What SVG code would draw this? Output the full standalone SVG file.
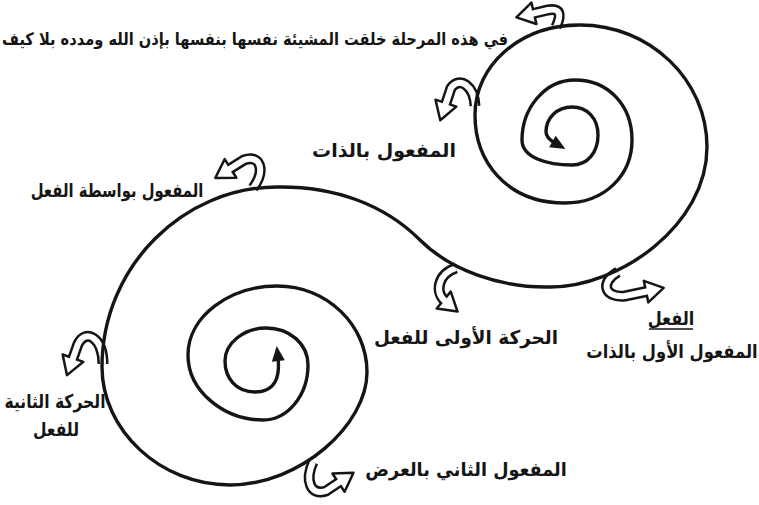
<svg xmlns="http://www.w3.org/2000/svg" xmlns:xlink="http://www.w3.org/1999/xlink" width="759" height="505" viewBox="0 0 759 505">
<style>
.t{font-family:"DejaVu Sans","Noto Sans",sans-serif;font-weight:bold;font-size:19px;fill:#151515;text-anchor:middle}
.sp{fill:none;stroke:#151515;stroke-width:3.4;stroke-linecap:round;stroke-linejoin:round}
.to{fill:none;stroke:#151515;stroke-width:11;marker-end:url(#headO)}
.ti{fill:none;stroke:#fff;stroke-width:6}
</style>
<defs>
<marker id="tip" markerUnits="userSpaceOnUse" markerWidth="30" markerHeight="30" refX="0" refY="0" orient="auto-start-reverse" overflow="visible">
<path d="M -3,-6.5 L 12,0 L -3,6.5 Z" fill="#151515"/>
</marker>
<marker id="headO" markerUnits="userSpaceOnUse" markerWidth="40" markerHeight="40" refX="0" refY="0" orient="auto" overflow="visible">
<path d="M -3,-11 L 15,0 L -3,11 Z" fill="#fff" stroke="#151515" stroke-width="2.5" stroke-linejoin="round"/>
</marker>
<path id="pA" d="M 556 27 C 562 14, 560 8, 548 10 L 531 14"/>
<path id="pB" d="M 475 106 C 474 86, 460 76, 451 88 L 445 106"/>
<path id="pC" d="M 253 188 C 266 170, 260 154, 244 160 L 228 170"/>
<path id="pD" d="M 456 268 C 438 274, 434 292, 446 302"/>
<path id="pE" d="M 618 272 C 600 282, 604 298, 625 296 L 649 291"/>
<path id="pF" d="M 103 364 C 103 338, 86 328, 78 344 L 72 361"/>
<path id="pG" d="M 313 462 C 305 480, 310 496, 326 491 L 341 481"/>
</defs>
<rect width="759" height="505" fill="#fff"/>
<g id="connectors">
<g id="arrow-top"><use xlink:href="#pA" class="to"/><use xlink:href="#pA" class="ti"/></g>
<g id="arrow-dhat"><use xlink:href="#pB" class="to"/><use xlink:href="#pB" class="ti"/></g>
<g id="arrow-wasita"><use xlink:href="#pC" class="to"/><use xlink:href="#pC" class="ti"/></g>
<g id="arrow-haraka1"><use xlink:href="#pD" class="to"/><use xlink:href="#pD" class="ti"/></g>
<g id="arrow-fiel"><use xlink:href="#pE" class="to"/><use xlink:href="#pE" class="ti"/></g>
<g id="arrow-haraka2"><use xlink:href="#pF" class="to"/><use xlink:href="#pF" class="ti"/></g>
<g id="arrow-ard"><use xlink:href="#pG" class="to"/><use xlink:href="#pG" class="ti"/></g>
</g>
<g id="spiral">
<path class="sp" marker-start="url(#tip)" marker-end="url(#tip)" d="M 278 358 C 280 376, 276 392, 255 392 C 236 392, 225 378, 225 361 C 225 343, 244 328, 266 328 C 290 328, 308 344, 308 365 C 308 395, 288 420, 263 420 C 225 420, 188 392, 188 355 C 188 316, 230 286, 277 286 C 327 286, 367 325, 367 372 C 367 425, 300 485, 230 485 C 160 485, 102 430, 102 367 C 102 265, 185 187, 277 187 C 335 186, 385 205, 420 240 C 450 270, 500 288, 550 287 C 620 287, 707 225, 707 147 C 707 80, 650 25, 580 25 C 520 25, 475 65, 475 115 C 475 160, 505 203, 565 203 C 605 203, 632 175, 632 140 C 632 105, 608 80, 575 80 C 545 80, 522 108, 522 140 C 522 158, 548 165, 572 165 C 588 165, 598 152, 598 135 C 598 118, 587 107, 572 107 C 557 107, 546 118, 546 132 C 546 136, 548 139, 555 143"/>
</g>
<g id="labels">
<g id="label-top"><text class="t" transform="translate(255 45) scale(0.86 1)" style="font-size:17px">في هذه المرحلة خلقت المشيئة نفسها بنفسها بإذن الله ومدده بلا كيف</text></g>
<g id="label-dhat"><text class="t" transform="translate(384 157)">المفعول بالذات</text></g>
<g id="label-wasita"><text class="t" transform="translate(117 197) scale(0.78 1)">المفعول بواسطة الفعل</text></g>
<g id="label-haraka1"><text class="t" transform="translate(466 344) scale(0.97 1)">الحركة الأولى للفعل</text></g>
<g id="label-fiel"><text class="t" transform="translate(671 325) scale(0.85 1)">الفعل</text><line x1="649" y1="329" x2="693" y2="329" stroke="#151515" stroke-width="1.5"/><text class="t" transform="translate(672 358) scale(0.86 1)">المفعول الأول بالذات</text></g>
<g id="label-haraka2"><text class="t" transform="translate(55 408) scale(0.82 1)">الحركة الثانية</text><text class="t" transform="translate(56 436) scale(0.82 1)">للفعل</text></g>
<g id="label-ard"><text class="t" transform="translate(466 476) scale(0.93 1)">المفعول الثاني بالعرض</text></g>
</g>
</svg>
